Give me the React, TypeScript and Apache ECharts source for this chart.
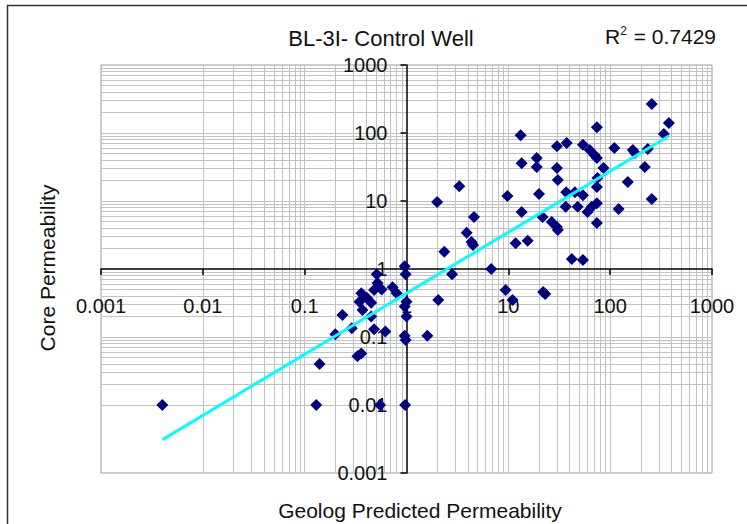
import React, { useEffect, useRef } from 'react';
import * as echarts from 'echarts';

const chartTitle = 'BL-3I- Control Well';
const xAxisName = 'Geolog Predicted Permeability';
const yAxisName = 'Core Permeability';
const rSquared = '0.7429';
const tickLabels = ['0.001', '0.01', '0.1', '1', '10', '100', '1000'];
const decadeStarts = [0.001, 0.01, 0.1, 1, 10, 100];
const minorMultipliers = [2, 3, 4, 5, 6, 7, 8, 9];
const innerDecades = [0.01, 0.1, 10, 100];

// Geolog predicted permeability (x)
const predicted = [
  0.004, 0.13, 0.55, 0.97, 0.14, 0.33, 0.36, 0.2, 0.235, 0.29,
  0.48, 0.62, 0.96, 0.98, 0.45, 0.37, 0.345, 0.41, 0.45, 0.36,
  0.48, 0.57, 0.51, 0.52, 0.73, 0.8, 0.96, 0.98, 1.0, 0.96,
  1.0, 1.6, 2.05, 2.8, 6.8, 9.4, 11, 22, 23, 2.35,
  4.5, 4.35, 3.9, 4.6, 2.0, 3.3, 11.8, 15.5, 42, 54,
  9.8, 13.5, 13.2, 13.5, 19, 19, 20, 21.7, 26.7, 30,
  30.6, 30, 37.4, 30, 30.6, 37, 36.6, 45, 48, 54,
  60, 66, 74, 74, 74, 75, 86, 54, 63, 70,
  74, 74, 110, 167, 175, 234, 219, 149, 121, 256,
  256, 377, 337,
];
// Core permeability (y)
const core = [
  0.01, 0.01, 0.01, 0.01, 0.04, 0.052, 0.057, 0.11, 0.21, 0.135,
  0.13, 0.12, 0.104, 0.09, 0.2, 0.25, 0.33, 0.375, 0.32, 0.44,
  0.49, 0.5, 0.84, 0.62, 0.54, 0.44, 1.1, 0.84, 0.33, 0.28,
  0.2, 0.104, 0.35, 0.84, 1.0, 0.49, 0.35, 0.46, 0.43, 1.8,
  2.25, 2.5, 3.4, 5.8, 9.7, 16.5, 2.4, 2.6, 1.4, 1.36,
  11.8, 6.9, 93, 36, 43, 31.6, 12.7, 5.8, 4.9, 4.15,
  3.75, 64, 71, 30.5, 20.4, 13.5, 8.2, 13.5, 8.2, 12.2,
  6.9, 8.2, 9.3, 4.75, 16, 21.8, 30.5, 67, 56, 47.5,
  43, 122, 60, 56, 51, 58, 31.6, 19, 7.6, 10.7,
  267, 140, 97,
];
// Power trendline y = a * x^b
const trendA = 0.44;
const trendB = 0.898;

const FONT = "'Liberation Sans', Arial, sans-serif";

export default function App() {
  const ref = useRef<HTMLDivElement>(null);
  useEffect(() => {
    const chart = echarts.init(ref.current as HTMLDivElement, null, { renderer: 'svg' });
    const gridLeft = 101, gridTop = 65, gridW = 611, gridH = 408;
    const points = predicted.map((x, i) => [x, core[i]]);
    const xmin = Math.min(...predicted);
    const xmax = Math.max(...predicted);
    const trend = [xmin, xmax].map((x) => [x, trendA * Math.pow(x, trendB)]);
    const gridVals: number[] = [];
    decadeStarts.forEach((d) => minorMultipliers.forEach((m) => gridVals.push(+(d * m).toPrecision(3))));
    innerDecades.forEach((d) => gridVals.push(d));
    const fmt = (v: number) => tickLabels[Math.round(Math.log10(v)) + 3];
    const markData: any[] = [];
    gridVals.forEach((v) => markData.push({ xAxis: v }));
    gridVals.forEach((v) => markData.push({ yAxis: v }));

    chart.setOption({
      animation: false,
      backgroundColor: '#fff',
      grid: {
        left: gridLeft, top: gridTop, width: gridW, height: gridH,
        show: true, backgroundColor: '#fff', borderColor: '#9a9a9a', borderWidth: 1,
        containLabel: false, outerBoundsMode: 'none',
      },
      xAxis: {
        type: 'log', logBase: 10, min: 0.001, max: 1000, splitNumber: 6,
        position: 'bottom', offset: -gridH / 2, z: 2,
        axisLine: { show: true, onZero: false, lineStyle: { color: '#000', width: 1.5 } },
        axisTick: { show: true, length: 6, lineStyle: { color: '#000', width: 1.5 } },
        axisLabel: { margin: 27, fontSize: 20, color: '#111', fontFamily: FONT, formatter: fmt },
        splitLine: { show: false },
      },
      yAxis: {
        type: 'log', logBase: 10, min: 0.001, max: 1000, splitNumber: 6,
        position: 'left', offset: -gridW / 2, z: 2,
        axisLine: { show: true, onZero: false, lineStyle: { color: '#000', width: 1.5 } },
        axisTick: { show: true, length: 6, lineStyle: { color: '#000', width: 1.5 } },
        axisLabel: { margin: 19, fontSize: 20, color: '#111', fontFamily: FONT, formatter: fmt },
        splitLine: { show: false },
      },
      series: [
        {
          type: 'scatter',
          data: points,
          symbol: 'diamond',
          symbolSize: 12,
          itemStyle: { color: '#000080', opacity: 1 },
          z: 4,
          markLine: {
            silent: true,
            z: 1,
            symbol: ['none', 'none'],
            label: { show: false },
            lineStyle: { color: '#c2c2c2', width: 1, type: 'solid' },
            emphasis: { disabled: true },
            data: markData,
          },
        },
        {
          type: 'line',
          data: trend,
          showSymbol: false,
          lineStyle: { color: '#00ffff', width: 3 },
          z: 5,
        },
      ],
      graphic: [
        {
          type: 'rect', silent: true, z: -1,
          shape: { x: 7.5, y: 5.5, width: 800, height: 600 },
          style: { fill: 'none', stroke: '#333', lineWidth: 1.5 },
        },
        {
          type: 'text', x: 381, y: 38,
          style: { text: chartTitle, fontSize: 22, fontFamily: FONT, fill: '#111', align: 'center', verticalAlign: 'middle' },
        },
        {
          type: 'text', x: 605, y: 36,
          style: {
            text: '{a|R}{b|2}{a| = ' + rSquared + '}',
            fontFamily: FONT, fill: '#111', align: 'left', verticalAlign: 'middle',
            rich: {
              a: { fontSize: 21, fontFamily: FONT, fill: '#111' },
              b: { fontSize: 12, fontFamily: FONT, fill: '#111', verticalAlign: 'top', padding: [0, 1, 10, 0] },
            },
          },
        },
        {
          type: 'text', x: 420, y: 510,
          style: { text: xAxisName, fontSize: 21, fontFamily: FONT, fill: '#111', align: 'center', verticalAlign: 'middle' },
        },
        {
          type: 'text', x: 47, y: 268, rotation: Math.PI / 2,
          style: { text: yAxisName, fontSize: 21, fontFamily: FONT, fill: '#111', align: 'center', verticalAlign: 'middle' },
        },
      ],
    });
    return () => chart.dispose();
  }, []);
  return (
    <div
      ref={ref}
      style={{ position: 'fixed', left: 0, top: 0, width: 747, height: 524, background: '#fff' }}
    />
  );
}
